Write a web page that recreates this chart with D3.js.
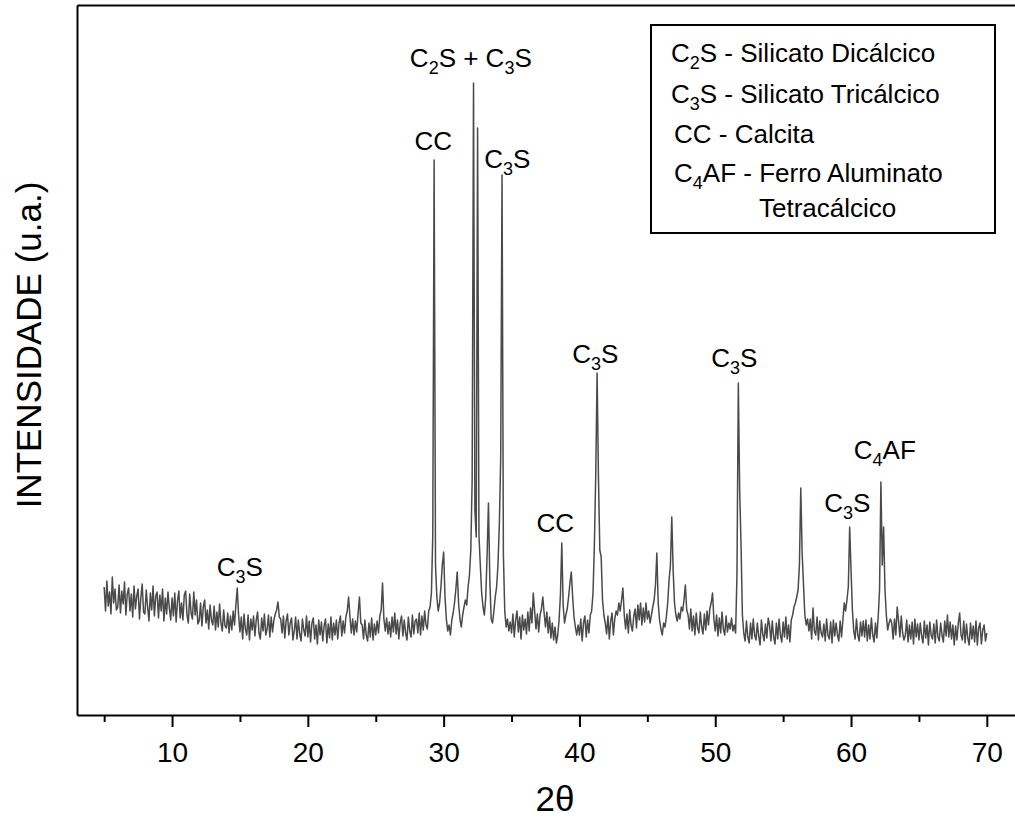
<!DOCTYPE html>
<html><head><meta charset="utf-8">
<script src="https://cdn.jsdelivr.net/npm/d3@7/dist/d3.min.js"></script>
<style>body{margin:0;background:#fff} svg{display:block}</style>
</head><body><svg id="c" width="1015" height="821"></svg>
<script>
// Diffractogram sampled every 0.1° from 5.0° to 70.0° (2θ), intensity in arbitrary units
const thetaStart = 5.0, thetaStep = 0.1;
const intensity = [
/* 5*/128,104,134,109,123,101,138,112,126,105,
/* 6*/108,130,102,124,111,133,100,121,127,104,
/* 7*/121,98,129,106,119,126,96,117,131,103,
/* 8*/101,125,108,94,122,105,129,99,119,123,
/* 9*/97,120,104,126,94,117,101,123,107,95,
/*10*/117,99,122,93,114,124,97,112,95,120,
/*11*/124,100,92,121,102,96,123,100,115,91,
/*12*/94,112,89,108,115,92,105,86,110,95,
/*13*/90,109,85,103,88,111,92,84,105,89,
/*14*/87,102,82,99,85,104,90,110,127,100,
/*15*/83,98,76,101,86,80,100,75,96,85,
/*16*/99,79,95,103,82,76,97,84,101,80,
/*17*/86,100,78,98,83,95,101,105,113,98,
/*18*/96,82,99,77,94,101,80,92,97,75,
/*19*/84,98,76,95,81,74,96,85,79,99,
/*20*/78,94,73,92,97,76,90,71,95,80,
/*21*/93,74,89,96,72,91,77,98,75,92,
/*22*/80,95,76,92,99,79,94,82,98,104,
/*23*/118,98,82,96,80,94,83,102,118,92,
/*24*/90,76,95,80,74,92,78,97,75,91,
/*25*/80,94,82,99,105,132,96,84,97,81,
/*26*/93,78,98,83,102,81,95,76,92,99,
/*27*/79,95,82,75,98,84,78,100,81,94,
/*28*/96,82,102,80,99,85,104,90,86,104,
/*29*/108,122,180,555,150,118,104,112,128,150,
/*30*/163,118,96,84,90,80,95,102,112,126,
/*31*/143,112,96,88,100,108,115,110,128,140,
/*32*/165,235,632,205,178,587,180,150,122,108,
/*33*/100,118,160,212,135,96,92,104,118,128,
/*34*/150,190,255,540,160,104,88,96,84,93,
/*35*/82,101,78,95,104,83,98,76,100,85,
/*36*/96,81,103,84,107,92,122,104,86,101,
/*37*/83,100,106,118,102,88,103,82,98,77,
/*38*/92,75,88,72,80,95,120,172,110,92,
/*39*/100,106,118,132,143,118,98,88,80,90,
/*40*/80,96,74,92,99,78,95,82,100,104,
/*41*/122,170,240,342,238,165,158,115,100,92,
/*42*/81,99,76,94,102,80,96,104,100,112,
/*43*/104,115,127,100,86,101,82,105,90,84,
/*44*/99,106,87,110,95,112,90,107,93,112,
/*45*/96,104,92,100,108,115,130,162,112,95,
/*46*/86,80,92,88,98,112,135,150,198,145,
/*47*/112,100,94,102,96,108,104,115,130,105,
/*48*/100,86,106,84,99,80,102,87,82,103,
/*49*/88,81,101,85,104,90,106,112,122,96,
/*50*/84,100,79,97,82,103,86,80,99,83,
/*51*/92,86,97,84,90,82,140,332,225,170,
/*52*/100,82,74,94,78,72,92,76,96,80,
/*53*/75,92,79,70,95,81,74,91,77,97,
/*54*/90,74,94,78,71,92,76,96,80,73,
/*55*/93,78,98,76,90,73,95,100,108,112,
/*56*/118,125,150,227,162,130,100,90,96,84,
/*57*/96,76,107,84,80,98,75,94,82,78,
/*58*/91,74,96,80,76,93,72,95,79,92,
/*59*/80,74,94,78,95,112,104,115,128,188,
/*60*/145,105,84,76,96,80,74,93,79,94,
/*61*/78,95,74,90,76,97,80,73,92,77,
/*62*/98,125,233,150,188,125,100,85,92,96,
/*63*/92,76,96,80,108,94,78,99,82,75,
/*64*/80,95,73,90,76,93,71,96,78,91,
/*65*/75,92,79,72,94,77,90,70,93,80,
/*66*/76,91,72,95,78,74,92,80,73,94,
/*67*/79,100,78,93,76,90,70,89,75,92,
/*68*/102,80,75,94,72,91,77,70,92,76,
/*69*/89,73,94,70,87,92,71,85,90,74,
/*70*/82
];

const xTicks = [10, 20, 30, 40, 50, 60, 70];
const xMinorTicks = [5, 15, 25, 35, 45, 55, 65];
const xTitle = "2θ";
const yTitle = "INTENSIDADE (u.a.)";

// peak annotations: label, 2θ of label centre, intensity at label baseline
const peakLabels  = ["C_3S", "CC", "C_2S + C_3S", "C_3S", "CC", "C_3S", "C_3S", "C_3S", "C_4AF"];
const peakThetas  = [14.99, 29.24, 32.0, 34.69, 38.22, 41.17, 51.4, 59.73, 62.49];
const peakLabelI  = [139, 565, 648, 547, 183, 352, 348, 203, 256];

const legendLines = ["C_2S - Silicato Dicálcico", "C_3S - Silicato Tricálcico", "CC - Calcita", "C_4AF - Ferro Aluminato", "Tetracálcico"];

const FONT = "'Liberation Sans', Arial, Helvetica, sans-serif";
const svg = d3.select("#c");

const x = d3.scaleLinear().domain([3, 72.2]).range([77, 1016.7]);
const y = d3.scaleLinear().domain([0, 710]).range([715, 5]);

const data = intensity.map((v, i) => [thetaStart + i * thetaStep, v]);

// line
svg.append("path")
  .datum(data)
  .attr("fill", "none")
  .attr("stroke", "#4a4a4a")
  .attr("stroke-width", 1.5)
  .attr("stroke-linejoin", "round")
  .attr("d", d3.line().x(d => x(d[0])).y(d => y(d[1])));

// frame: top & left
svg.append("g").attr("transform", `translate(0,${y.range()[1]})`)
  .call(d3.axisTop(x).tickValues([]).tickSizeOuter(0))
  .call(g => g.select(".domain").attr("stroke", "#000").attr("stroke-width", 2));
svg.append("g").attr("transform", `translate(${x.range()[0]},0)`)
  .call(d3.axisLeft(y).tickValues([]).tickSizeOuter(0))
  .call(g => g.select(".domain").attr("stroke", "#000").attr("stroke-width", 2));

// bottom axis (minor then major)
svg.append("g").attr("transform", `translate(0,${y.range()[0]})`)
  .call(d3.axisBottom(x).tickValues(xMinorTicks).tickSize(7).tickSizeOuter(0).tickFormat(""))
  .call(g => g.select(".domain").remove())
  .call(g => g.selectAll(".tick line").attr("stroke", "#000").attr("stroke-width", 2));
svg.append("g").attr("transform", `translate(0,${y.range()[0]})`)
  .call(d3.axisBottom(x).tickValues(xTicks).tickSize(12).tickSizeOuter(0))
  .call(g => g.select(".domain").attr("stroke", "#000").attr("stroke-width", 2))
  .call(g => g.selectAll(".tick line").attr("stroke", "#000").attr("stroke-width", 2))
  .call(g => g.selectAll(".tick text")
      .attr("y", 47).attr("dy", 0)
      .attr("fill", "#000")
      .style("font-family", FONT).style("font-size", "28px"));

// axis titles
svg.append("text")
  .attr("x", 555).attr("y", 811)
  .attr("text-anchor", "middle")
  .style("font-family", FONT).style("font-size", "35px").attr("fill", "#000")
  .text(xTitle);
svg.append("text")
  .attr("transform", "translate(41,345) rotate(-90)")
  .attr("text-anchor", "middle")
  .style("font-family", FONT).style("font-size", "35px").attr("fill", "#000")
  .text(yTitle);

// rich text with subscripts written as _d
function rich(textSel, str, size) {
  const parts = str.split(/(_\d)/).filter(p => p.length);
  const sub = Math.round(size * 0.68), shift = Math.round(size * 0.27);
  let down = false;
  parts.forEach(p => {
    const t = textSel.append("tspan");
    if (p[0] === "_") {
      t.text(p.slice(1)).style("font-size", sub + "px").attr("dy", shift);
      down = true;
    } else {
      t.text(p);
      if (down) { t.attr("dy", -shift); down = false; }
    }
  });
}

// peak labels
peakLabels.forEach((lab, i) => {
  const t = svg.append("text")
    .attr("x", x(peakThetas[i])).attr("y", y(peakLabelI[i]))
    .attr("text-anchor", "middle")
    .style("font-family", FONT).style("font-size", "26px").attr("fill", "#000");
  rich(t, lab, 26);
});

// legend box
const lg = svg.append("g");
lg.append("rect").attr("x", 651).attr("y", 25).attr("width", 344).attr("height", 208)
  .attr("fill", "#fff").attr("stroke", "#000").attr("stroke-width", 2);
const lgX = [671, 671, 674, 674, 759];
const lgY = [62, 103, 143, 182, 217];
legendLines.forEach((s, i) => {
  const t = lg.append("text").attr("x", lgX[i]).attr("y", lgY[i])
    .style("font-family", FONT).style("font-size", "26px").attr("fill", "#000");
  rich(t, s, 26);
});
</script></body></html>
